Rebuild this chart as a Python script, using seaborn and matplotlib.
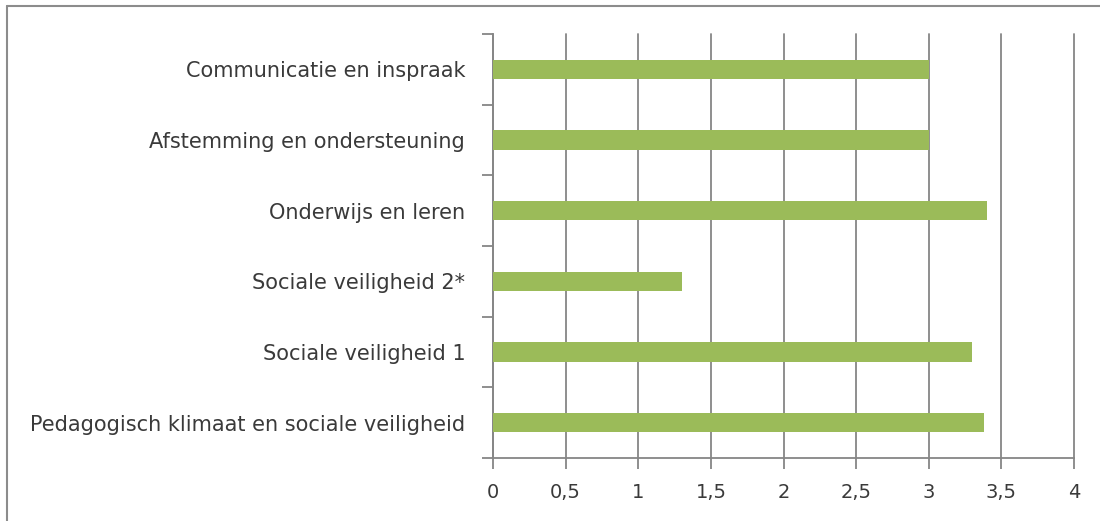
import matplotlib
matplotlib.use('Agg')
import matplotlib.pyplot as plt
from matplotlib.lines import Line2D
import numpy as np
import pandas as pd
import seaborn as sns

# Data
categories = ['Communicatie en inspraak',
              'Afstemming en ondersteuning',
              'Onderwijs en leren',
              'Sociale veiligheid 2*',
              'Sociale veiligheid 1',
              'Pedagogisch klimaat en sociale veiligheid']
scores = [3.0, 3.0, 3.4, 1.3, 3.3, 3.38]
x_ticks = [0, 0.5, 1, 1.5, 2, 2.5, 3, 3.5, 4]
x_tick_labels = ['0', '0,5', '1', '1,5', '2', '2,5', '3', '3,5', '4']

df = pd.DataFrame({'categorie': categories, 'score': scores})

sns.set_style('white')
plt.rcParams['font.family'] = ['DejaVu Sans']

grid_col = '#868686'
text_col = '#3a3a3a'

fig = plt.figure(figsize=(11, 5.21), dpi=100)
ax = fig.add_axes([493/1100, 1 - 458/521, (1074-493)/1100, (458-34)/521])

sns.barplot(data=df, x='score', y='categorie', orient='h', color='#9BBB59',
            width=0.27, saturation=1, linewidth=0, ax=ax, zorder=3)

ax.set_xlim(0, 4)
ax.set_ylim(len(categories) - 0.5, -0.5)
ax.set_xticks(x_ticks)
ax.set_xticklabels(x_tick_labels, fontsize=14, color=text_col)
ax.xaxis.grid(True, color=grid_col, linewidth=1.3, zorder=0)
for gl in ax.get_xgridlines():
    gl.set_clip_on(False)
ax.set_axisbelow(True)

# category labels at centres, tick marks at boundaries
ax.set_yticks(range(len(categories)))
ax.set_yticklabels(categories, fontsize=15, color=text_col)
ax.set_yticks(np.arange(-0.5, len(categories)), minor=True)
ax.tick_params(axis='y', which='major', length=0, pad=20)
ax.tick_params(axis='y', which='minor', length=8, width=1.3, color=grid_col, direction='out', left=True)
ax.tick_params(axis='x', length=8, width=1.3, color=grid_col, direction='out', bottom=True, pad=10)

ax.set_xlabel('')
ax.set_ylabel('')
for s in ['top', 'right']:
    ax.spines[s].set_visible(False)
for s in ['left', 'bottom']:
    ax.spines[s].set_color(grid_col)
    ax.spines[s].set_linewidth(1.3)

# outer frame (left and top edges visible)
fig.add_artist(Line2D([7/1100, 7/1100], [0, 1 - 6/521], color='#8c8c8c', linewidth=1.5))
fig.add_artist(Line2D([7/1100, 1], [1 - 6/521, 1 - 6/521], color='#8c8c8c', linewidth=1.5))

fig.savefig('out.png', dpi=100)
